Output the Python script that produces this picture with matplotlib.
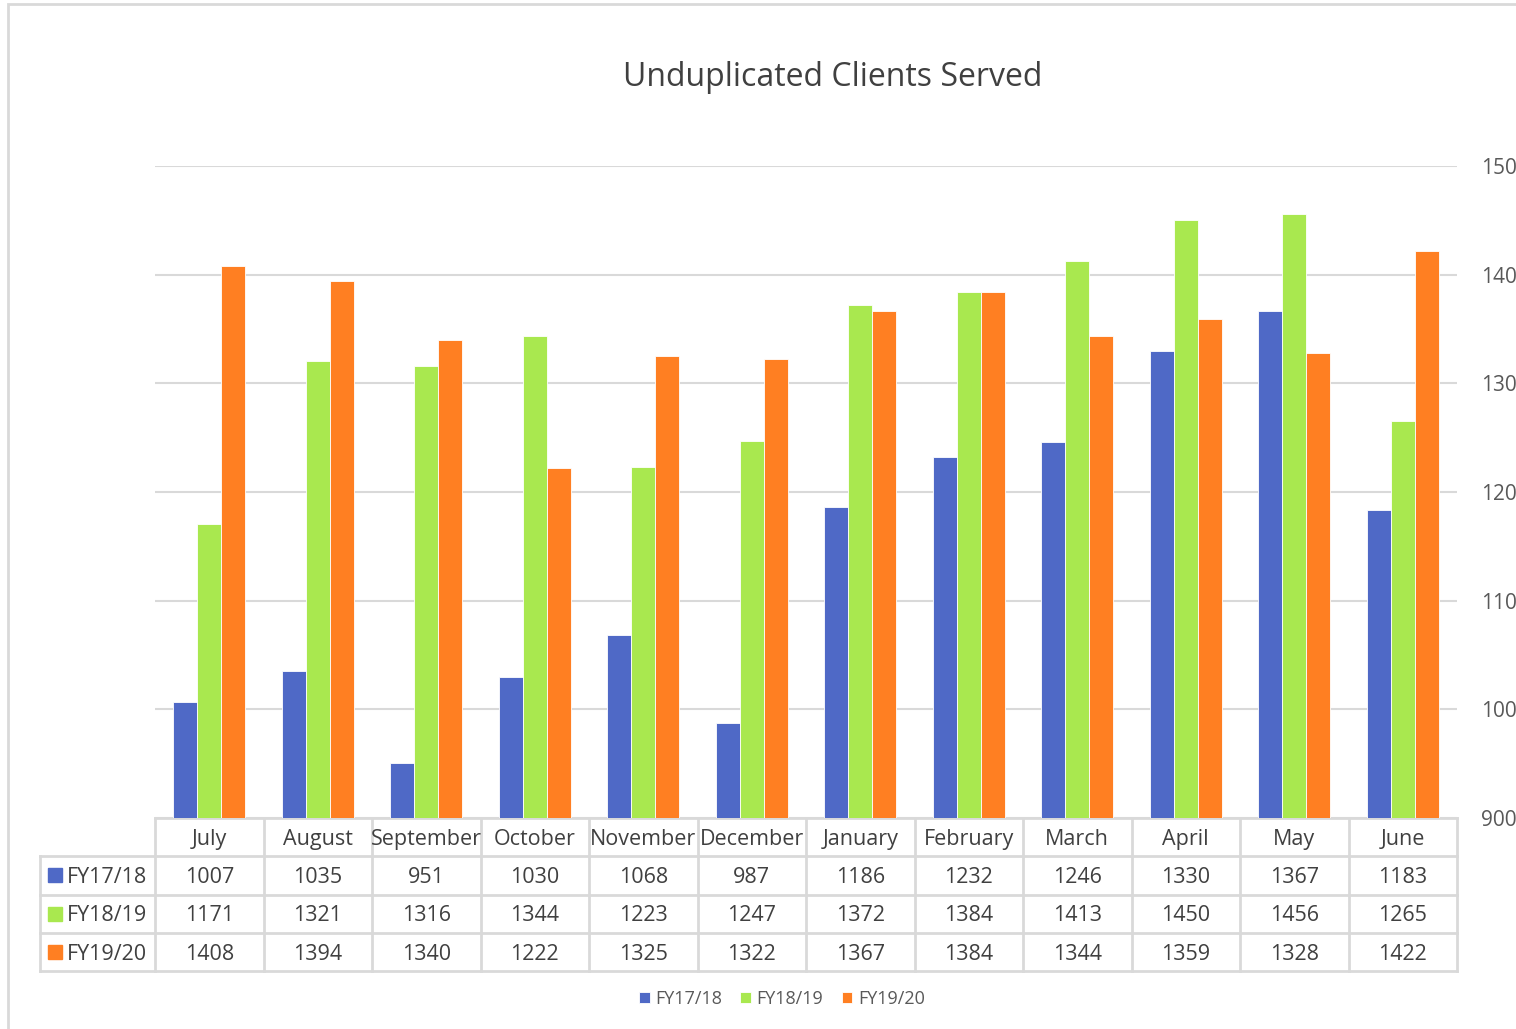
import matplotlib
matplotlib.use("Agg")
import matplotlib.pyplot as plt
from matplotlib.patches import Rectangle
from matplotlib.transforms import blended_transform_factory
import numpy as np

plt.rcParams['font.family'] = ['Open Sans', 'DejaVu Sans']

# ---------------- DATA ----------------
months = ["July", "August", "September", "October", "November", "December",
          "January", "February", "March", "April", "May", "June"]
series_names = ["FY17/18", "FY18/19", "FY19/20"]
fy1718 = [1007, 1035, 951, 1030, 1068, 987, 1186, 1232, 1246, 1330, 1367, 1183]
fy1819 = [1171, 1321, 1316, 1344, 1223, 1247, 1372, 1384, 1413, 1450, 1456, 1265]
fy1920 = [1408, 1394, 1340, 1222, 1325, 1322, 1367, 1384, 1344, 1359, 1328, 1422]
yticks = [900, 1000, 1100, 1200, 1300, 1400, 1500]
ytick_labels = ["900", "100", "110", "120", "130", "140", "150"]  # cut off as in the original

colors = ["#4F69C6", "#A9E84F", "#FF7F22"]
grid_col = "#D9D9D9"
text_col = "#404040"

# ---------------- FIGURE ----------------
W, H = 1516, 1029
fig = plt.figure(figsize=(W / 100, H / 100), dpi=100)
ax = fig.add_axes([155 / W, 1 - 818 / H, 1302 / W, 652 / H])

x = np.arange(len(months))
bw = 0.22
handles = []
for i, (vals, name) in enumerate(zip([fy1718, fy1819, fy1920], series_names)):
    b = ax.bar(x + (i - 1) * bw, np.array(vals) - 900, bottom=900, width=bw,
               color=colors[i], edgecolor="white", linewidth=0.6, label=name, zorder=3)
    handles.append(b)

ax.set_xlim(-0.5, len(months) - 0.5)
ax.set_ylim(900, 1500)
ax.set_xticks([])
ax.yaxis.tick_right()
ax.set_yticks(yticks)
ax.set_yticklabels(ytick_labels)
ax.tick_params(axis="y", length=0, pad=17, labelsize=15, labelcolor="#595959")
ax.grid(axis="y", color=grid_col, linewidth=1.5, zorder=0)
for s in ax.spines.values():
    s.set_visible(False)

fig.text(833 / W, 1 - 78 / H, "Unduplicated Clients Served", ha="center", va="center",
         fontsize=23, color="#404040")

# ---------------- DATA TABLE ----------------
tr = blended_transform_factory(ax.transData, ax.transAxes)
px = 1 / 652.0
row_h = 38.3 * px
left = -0.5 - (155 - 40) / 108.5
right = len(months) - 0.5
n_rows = len(series_names)
bottom_y = -row_h * (n_rows + 1)
line_kw = dict(color=grid_col, linewidth=2, transform=tr, clip_on=False, zorder=1)
fs = 15.5

# horizontal lines
ax.plot([-0.5, right], [0, 0], **line_kw)
for r in range(1, n_rows + 2):
    ax.plot([left, right], [-row_h * r, -row_h * r], **line_kw)
# vertical lines
for c in range(len(months) + 1):
    ax.plot([c - 0.5, c - 0.5], [0, bottom_y], **line_kw)
ax.plot([left, left], [-row_h, bottom_y], **line_kw)

# header
for c, m in enumerate(months):
    ax.text(c, -row_h * 0.5 - 2 * px, m, transform=tr, ha="center", va="center",
            fontsize=fs, color=text_col, clip_on=False)

# rows
for r, (vals, name) in enumerate(zip([fy1718, fy1819, fy1920], series_names)):
    yc = -row_h * (r + 1.5) - 2 * px
    ax.plot([-0.5 - (155 - 55) / 108.5], [yc + 2 * px], marker="s", markersize=10,
            color=colors[r], transform=tr, clip_on=False, linestyle="none")
    ax.text(-0.5 - (155 - 67) / 108.5, yc, name, transform=tr, ha="left", va="center",
            fontsize=fs, color=text_col, clip_on=False)
    for c, v in enumerate(vals):
        ax.text(c, yc, str(v), transform=tr, ha="center", va="center",
                fontsize=fs, color=text_col, clip_on=False)

# ---------------- LEGEND ----------------
fig.legend(handles, series_names, loc="center", bbox_to_anchor=(782 / W, 1 - 999 / H),
           ncol=3, frameon=False, fontsize=13, handlelength=0.6, handleheight=0.6,
           handletextpad=0.3, columnspacing=1.0, labelcolor="#595959")

# chart border
fig.add_artist(Rectangle((8 / W, -0.05), 1.1, 1 - 4 / H + 0.05, transform=fig.transFigure,
                         fill=False, edgecolor=grid_col, linewidth=2))

fig.savefig("out.png", dpi=100)
